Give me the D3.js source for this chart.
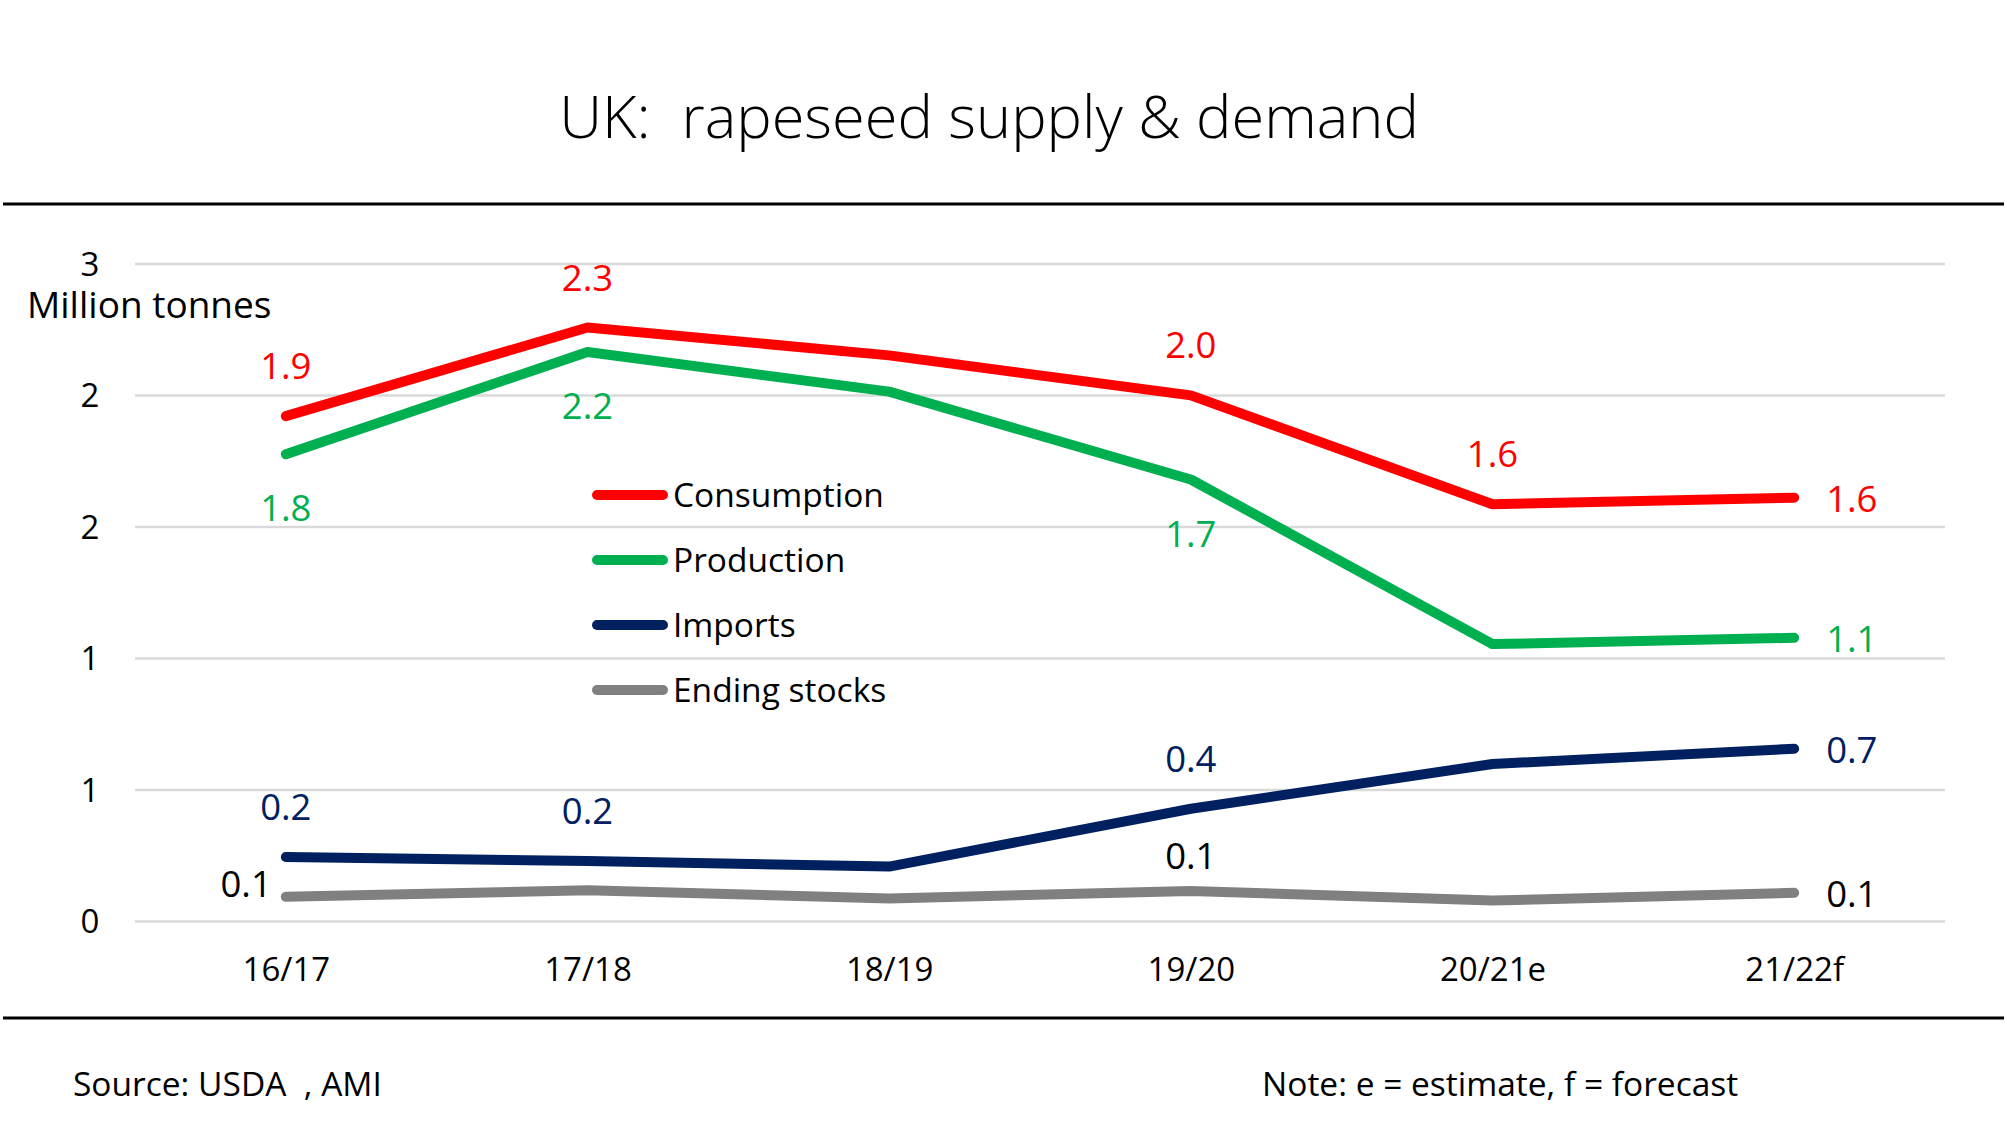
<!DOCTYPE html>
<html>
<head>
<meta charset="utf-8">
<script src="https://cdn.jsdelivr.net/npm/d3@7"></script>
<style>
  body { margin: 0; background: #fff; }
  svg text { font-family: "Open Sans", sans-serif; white-space: pre; }
</style>
</head>
<body>
<div id="chart"></div>
<script>
// data (million tonnes)
const seasons = ["16/17", "17/18", "18/19", "19/20", "20/21e", "21/22f"];
const consumption = [1.92, 2.257, 2.151, 1.999, 1.585, 1.61];
const production = [1.775, 2.164, 2.013, 1.679, 1.053, 1.077];
const imports = [0.243, 0.228, 0.207, 0.427, 0.597, 0.655];
const endingStocks = [0.092, 0.117, 0.086, 0.114, 0.078, 0.107];

const yTicks = [0, 0.5, 1, 1.5, 2, 2.5];
const yTickLabels = ["0", "1", "1", "2", "2", "3"];

const seriesNames = ["Consumption", "Production", "Imports", "Ending stocks"];
const seriesValues = [consumption, production, imports, endingStocks];
const seriesColors = ["#ff0000", "#00b050", "#002060", "#808080"];
const labelColors = ["#ff0000", "#00b050", "#002060", "#000000"];

// which points carry a value label, and where
const labelPlacement = [
    { 0: "above", 1: "above", 3: "above", 4: "above", 5: "right" },
    { 0: "below", 1: "below", 3: "below", 5: "right" },
    { 0: "above", 1: "above", 3: "above", 5: "right" },
    { 0: "left", 3: "aboveNear", 5: "right" }
];

const width = 2007, height = 1140;
const plot = { left: 135, right: 1945, top: 263.6, bottom: 921 };

const svg = d3.select("#chart")
    .append("svg")
    .attr("width", width)
    .attr("height", height);

const x = d3.scalePoint()
    .domain(seasons)
    .range([plot.left, plot.right])
    .padding(0.5);

const y = d3.scaleLinear()
    .domain([0, 2.5])
    .range([plot.bottom, plot.top]);

// title + rules
svg.append("text")
    .attr("x", 989)
    .attr("y", 138)
    .attr("text-anchor", "middle")
    .style("font-size", "59.5px")
    .style("font-weight", 300)
    .attr("fill", "#000")
    .text("UK:  rapeseed supply & demand");

[204, 1018].forEach(yy => {
    svg.append("line")
        .attr("x1", 3).attr("x2", 2004)
        .attr("y1", yy).attr("y2", yy)
        .attr("stroke", "#000")
        .attr("stroke-width", 3);
});

// gridlines
const yAxis = svg.append("g")
    .attr("transform", `translate(${plot.left},0)`)
    .call(d3.axisLeft(y)
        .tickValues(yTicks)
        .tickSize(-(plot.right - plot.left))
        .tickFormat((d, i) => yTickLabels[i]));
yAxis.select(".domain").remove();
yAxis.selectAll(".tick line")
    .attr("stroke", "#d9d9d9")
    .attr("stroke-width", 2.5);
yAxis.selectAll(".tick text")
    .attr("x", 90 - plot.left)
    .attr("text-anchor", "middle")
    .attr("dy", "0.36em")
    .attr("fill", "#000")
    .style("font-size", "33px")
    .style("font-family", "'Open Sans', sans-serif");

svg.append("text")
    .attr("x", 27)
    .attr("y", 318)
    .style("font-size", "37px")
    .attr("fill", "#000")
    .text("Million tonnes");

// x axis labels
const xAxis = svg.append("g")
    .attr("transform", `translate(0,${plot.bottom})`)
    .call(d3.axisBottom(x).tickSize(0).tickPadding(0));
xAxis.select(".domain").remove();
xAxis.selectAll(".tick text")
    .attr("y", 60)
    .attr("dy", 0)
    .attr("fill", "#000")
    .style("font-size", "33px")
    .style("font-family", "'Open Sans', sans-serif");

// lines
const line = d3.line()
    .x((d, i) => x(seasons[i]))
    .y(d => y(d));

seriesValues.forEach((vals, s) => {
    svg.append("path")
        .datum(vals)
        .attr("fill", "none")
        .attr("stroke", seriesColors[s])
        .attr("stroke-width", 10)
        .attr("stroke-linecap", "round")
        .attr("stroke-linejoin", "round")
        .attr("d", line);
});

// value labels
const offsets = {
    above: { dx: 0, dy: -50, anchor: "middle" },
    aboveNear: { dx: 0, dy: -35, anchor: "middle" },
    below: { dx: 0, dy: 54, anchor: "middle" },
    right: { dx: 32, dy: 1, anchor: "start" },
    left: { dx: -14, dy: -13, anchor: "end" }
};

seriesValues.forEach((vals, s) => {
    const pts = Object.keys(labelPlacement[s]).map(k => +k);
    svg.selectAll(null)
        .data(pts)
        .enter()
        .append("text")
        .attr("x", i => x(seasons[i]) + offsets[labelPlacement[s][i]].dx)
        .attr("y", i => y(vals[i]) + offsets[labelPlacement[s][i]].dy)
        .attr("dy", "0.36em")
        .attr("text-anchor", i => offsets[labelPlacement[s][i]].anchor)
        .attr("fill", labelColors[s])
        .style("font-size", "36.5px")
        .text(i => vals[i].toFixed(1));
});

// legend
const legend = svg.append("g");
seriesNames.forEach((name, s) => {
    const ly = 495 + s * 65;
    legend.append("line")
        .attr("x1", 597).attr("x2", 663)
        .attr("y1", ly).attr("y2", ly)
        .attr("stroke", seriesColors[s])
        .attr("stroke-width", 10)
        .attr("stroke-linecap", "round");
    legend.append("text")
        .attr("x", 673)
        .attr("y", ly)
        .attr("dy", "0.36em")
        .attr("fill", "#000")
        .style("font-size", "33.5px")
        .text(name);
});

// footer
svg.append("text")
    .attr("x", 73)
    .attr("y", 1096)
    .style("font-size", "33.5px")
    .attr("fill", "#000")
    .text("Source: USDA  , AMI");

svg.append("text")
    .attr("x", 1262)
    .attr("y", 1096)
    .style("font-size", "33.5px")
    .attr("fill", "#000")
    .text("Note: e = estimate, f = forecast");
</script>
</body>
</html>
